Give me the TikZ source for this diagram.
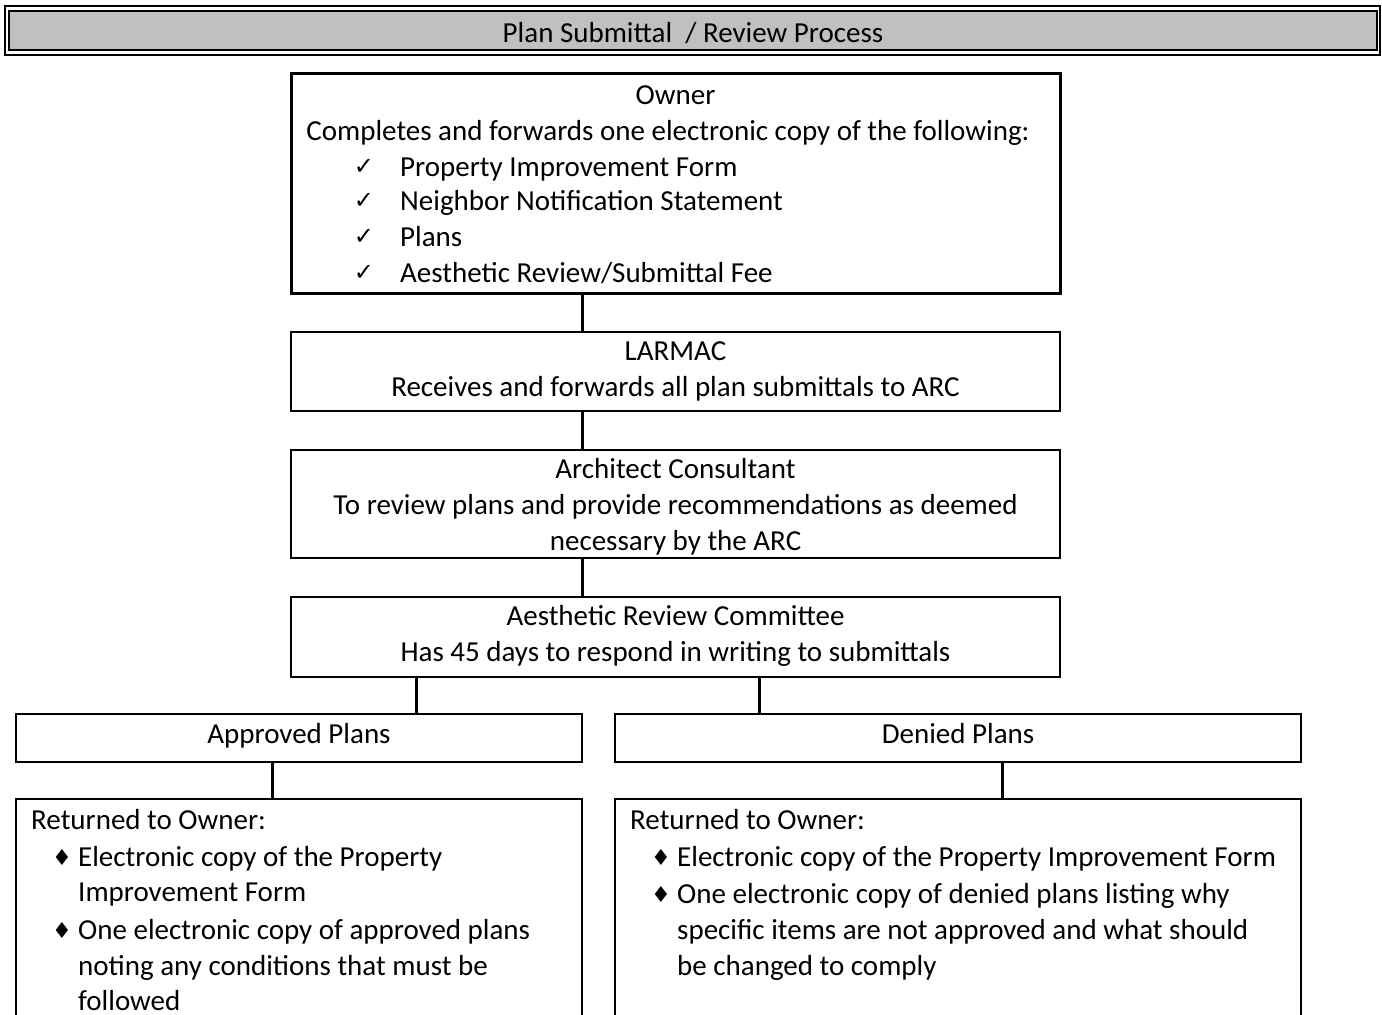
\documentclass[tikz,border=0pt]{standalone}
\usepackage{fontspec}
\setmainfont{Carlito}
\newfontfamily\symfont{DejaVu Sans}
\definecolor{barGray}{HTML}{C0C0C0}
\begin{document}
\begin{tikzpicture}[x=1pt,y=-1pt,
  box/.style={draw, line width=2pt, inner sep=0pt, rectangle},
  txt/.style={inner sep=0pt, font=\fontsize{29}{35}\selectfont, anchor=base},
  txtl/.style={txt, anchor=base west},
  ck/.style={inner sep=0pt, font=\symfont\fontsize{24}{24}\selectfont, anchor=center},
  dia/.style={inner sep=0pt, font=\symfont\fontsize{22}{22}\selectfont, anchor=center},
  conn/.style={line width=3pt}]
\clip (0,0) rectangle (1382,1015);
\fill[white] (0,0) rectangle (1382,1015);
% title bar
\node[box, minimum width=1375, minimum height=49] (titleout) at (692.5,30.5) {};
\node[box, fill=barGray, minimum width=1368, minimum height=39] (titlein) at (693,30.5) {};
\node[txt] (title) at (693,42) {Plan Submittal\ \ / Review Process};
% boxes
\node[box, line width=3pt, minimum width=769, minimum height=220] (owner) at (675.5,183) {};
\node[box, minimum width=769, minimum height=79] (larmac) at (675.5,371.5) {};
\node[box, minimum width=769, minimum height=108] (arch) at (675.5,504) {};
\node[box, minimum width=769, minimum height=80] (arc) at (675.5,637) {};
\node[box, minimum width=566, minimum height=48] (appr) at (299,738) {};
\node[box, minimum width=686, minimum height=48] (deny) at (958,738) {};
\node[box, minimum width=566, minimum height=260] (retl) at (299,929) {};
\node[box, minimum width=686, minimum height=260] (retr) at (958,929) {};
% connector positions
\coordinate (c1) at (582,0);
\coordinate (c2) at (416,0);
\coordinate (c3) at (759,0);
\coordinate (c4) at (272,0);
\coordinate (c5) at (1002,0);
\draw[conn] (owner.south -| c1) -- (larmac.north -| c1);
\draw[conn] (larmac.south -| c1) -- (arch.north -| c1);
\draw[conn] (arch.south -| c1) -- (arc.north -| c1);
\draw[conn] (arc.south -| c2) -- (appr.north -| c2);
\draw[conn] (arc.south -| c3) -- (deny.north -| c3);
\draw[conn] (appr.south -| c4) -- (retl.north -| c4);
\draw[conn] (deny.south -| c5) -- (retr.north -| c5);
% owner text
\node[txt] (ownerh) at (675.5,104) {Owner};
\node[txt] (owner1) at (668,140) {Completes and forwards one electronic copy of the following:};
\node[ck] (k1) at (364,167) {✓};
\node[ck] (k2) at (364,201) {✓};
\node[ck] (k3) at (364,237) {✓};
\node[ck] (k4) at (364,273) {✓};
\node[txtl] (o1) at (400,176) {Property Improvement Form};
\node[txtl] (o2) at (400,210) {Neighbor Notification Statement};
\node[txtl] (o3) at (400,246) {Plans};
\node[txtl] (o4) at (400,282) {Aesthetic Review/Submittal Fee};
% larmac
\node[txt] (larh) at (675.5,360) {LARMAC};
\node[txt] (lar1) at (675.5,396) {Receives and forwards all plan submittals to ARC};
% architect
\node[txt] (archh) at (675.5,478) {Architect Consultant};
\node[txt] (arch1) at (675.5,514) {To review plans and provide recommendations as deemed};
\node[txt] (arch2) at (675.5,550) {necessary by the ARC};
% arc
\node[txt] (arch3) at (675.5,625) {Aesthetic Review Committee};
\node[txt] (arc1) at (675.5,661) {Has 45 days to respond in writing to submittals};
% approved / denied
\node[txt] (apprt) at (299,743) {Approved Plans};
\node[txt] (denyt) at (958,743) {Denied Plans};
% returned left
\node[txtl] (rlh) at (31,829) {Returned to Owner:};
\node[dia] (bl1) at (62,857) {♦};
\node[dia] (bl2) at (62,930) {♦};
\node[txtl] (l1) at (78,866) {Electronic copy of the Property};
\node[txtl] (l2) at (78,901) {Improvement Form};
\node[txtl] (l3) at (78,939) {One electronic copy of approved plans};
\node[txtl] (l4) at (78,975) {noting any conditions that must be};
\node[txtl] (l5) at (78,1010) {followed};
% returned right
\node[txtl] (rrh) at (630,829) {Returned to Owner:};
\node[dia] (br1) at (661,857) {♦};
\node[dia] (br2) at (661,894) {♦};
\node[txtl] (r1) at (677,866) {Electronic copy of the Property Improvement Form};
\node[txtl] (r2) at (677,903) {One electronic copy of denied plans listing why};
\node[txtl] (r3) at (677,939) {specific items are not approved and what should};
\node[txtl] (r4) at (677,975) {be changed to comply};
\end{tikzpicture}
\end{document}
